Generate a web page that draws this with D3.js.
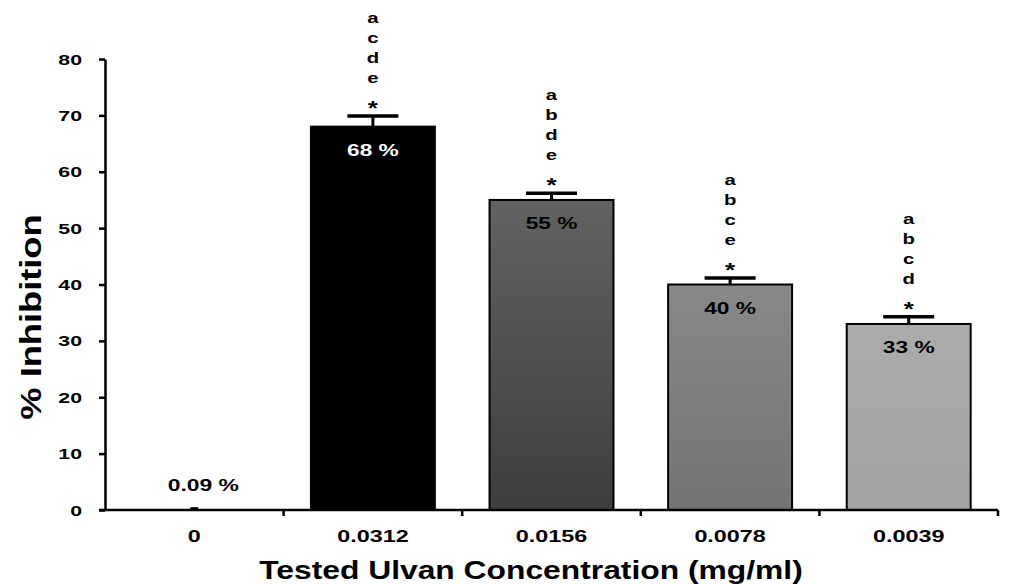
<!DOCTYPE html>
<html>
<head>
<meta charset="utf-8">
<script src="https://cdn.jsdelivr.net/npm/d3@7"></script>
<style>
  html, body { margin: 0; padding: 0; background: #fff; }
  svg { display: block; font-family: "Liberation Sans", Arial, Helvetica, sans-serif; }
</style>
</head>
<body>
<svg id="chart" width="1009" height="584"></svg>
<script>
// ---- data ----
const categories = ["0", "0.0312", "0.0156", "0.0078", "0.0039"];
const values = [0.09, 68, 55, 40, 33];
const errors = [0.1, 1.9, 1.2, 1.15, 1.3];
const valueLabels = ["0.09 %", "68 %", "55 %", "40 %", "33 %"];
const sigLetters = [[], ["a", "c", "d", "e", "*"], ["a", "b", "d", "e", "*"], ["a", "b", "c", "e", "*"], ["a", "b", "c", "d", "*"]];
const yTicks = [0, 10, 20, 30, 40, 50, 60, 70, 80];
const yTitle = "% Inhibition";
const xTitle = "Tested Ulvan Concentration (mg/ml)";

// ---- styling ----
const fills = ["#000", "url(#g1)", "url(#g2)", "url(#g3)", "url(#g4)"];
const labelColors = ["#000", "#fff", "#000", "#000", "#000"];
const capWidths = [8, 51, 51, 51, 51];

const svg = d3.select("#chart");
svg.append("rect").attr("width", 1009).attr("height", 584).attr("fill", "#fff");

const defs = svg.append("defs");
const grads = [["g1", "#000000", "#000000"], ["g2", "#626262", "#3e3e3e"], ["g3", "#888888", "#747474"], ["g4", "#ababab", "#a3a3a3"]];
grads.forEach(([id, c0, c1]) => {
  const g = defs.append("linearGradient").attr("id", id).attr("x1", 0).attr("y1", 0).attr("x2", 0).attr("y2", 1);
  g.append("stop").attr("offset", "0%").attr("stop-color", c0);
  g.append("stop").attr("offset", "100%").attr("stop-color", c1);
});

const x0 = 105, x1 = 998, yBot = 510, yTop = 59;
const x = d3.scaleBand().domain(categories).range([x0, x1]).paddingInner(0.306).paddingOuter(0.153);
const y = d3.scaleLinear().domain([0, 80]).range([yBot, yTop]);

// bars
svg.selectAll("rect.bar").data(categories).join("rect")
  .attr("class", "bar")
  .attr("x", d => x(d))
  .attr("width", x.bandwidth())
  .attr("y", (d, i) => y(values[i]))
  .attr("height", (d, i) => y(0) - y(values[i]))
  .attr("fill", (d, i) => fills[i])
  .attr("stroke", (d, i) => (y(0) - y(values[i]) < 2 ? "none" : "#000"))
  .attr("stroke-width", 2);

// error bars
const eb = svg.selectAll("g.err").data(categories).join("g").attr("class", "err");
eb.append("line")
  .attr("x1", d => x(d) + x.bandwidth() / 2).attr("x2", d => x(d) + x.bandwidth() / 2)
  .attr("y1", (d, i) => y(values[i])).attr("y2", (d, i) => y(values[i] + errors[i]))
  .attr("stroke", "#000").attr("stroke-width", 3);
eb.append("line")
  .attr("x1", (d, i) => x(d) + x.bandwidth() / 2 - capWidths[i] / 2)
  .attr("x2", (d, i) => x(d) + x.bandwidth() / 2 + capWidths[i] / 2)
  .attr("y1", (d, i) => y(values[i] + errors[i])).attr("y2", (d, i) => y(values[i] + errors[i]))
  .attr("stroke", "#000").attr("stroke-width", 3.5);

// helper for stretched text
function sText(g, tx, ty, txt, size, sx, color, anchor, rot) {
  return g.append("text")
    .attr("transform", `translate(${tx},${ty})` + (rot ? ` rotate(${rot})` : "") + ` scale(${sx},1)`)
    .attr("text-anchor", anchor || "middle")
    .attr("font-size", size)
    .attr("font-weight", "bold")
    .attr("fill", color || "#000")
    .text(txt);
}

// value labels
categories.forEach((c, i) => {
  const cx = x(c) + x.bandwidth() / 2;
  if (i === 0) {
    sText(svg, cx + 9, y(values[i]) - 18, valueLabels[i], 16, 1.43, labelColors[i]);
  } else {
    sText(svg, cx, y(values[i]) + 29, valueLabels[i], 16, 1.42, labelColors[i]);
  }
});

// significance letters
categories.forEach((c, i) => {
  const cx = x(c) + x.bandwidth() / 2;
  const capY = y(values[i] + errors[i]);
  const L = sigLetters[i];
  const n = L.length;
  L.forEach((t, j) => {
    const k = n - 1 - j; // 0 = bottom ("*")
    if (k === 0) {
      sText(svg, cx, capY - 1, t, 20, 1.3, "#000");
    } else {
      sText(svg, cx, capY - 33 - 20 * (k - 1), t, 14.5, 1.4, "#000");
    }
  });
});

// y axis
const yAxis = svg.append("g").attr("transform", `translate(${x0},0)`)
  .call(d3.axisLeft(y).tickValues(yTicks).tickSize(6).tickSizeOuter(0));
yAxis.select(".domain").attr("stroke", "#000").attr("stroke-width", 2.5);
yAxis.selectAll(".tick line").attr("stroke", "#000").attr("stroke-width", 2.5);
yAxis.selectAll(".tick text")
  .attr("x", null).attr("dy", null)
  .attr("transform", "translate(-23,5) scale(1.42,1)")
  .attr("font-size", 15).attr("font-weight", "bold")
  .attr("font-family", "Liberation Sans, Arial, sans-serif")
  .attr("fill", "#000");

// x axis
const xAxis = svg.append("g").attr("transform", `translate(0,${yBot})`)
  .call(d3.axisBottom(x).tickSize(0).tickSizeOuter(0));
xAxis.select(".domain").attr("stroke", "#000").attr("stroke-width", 2.5).attr("d", `M${x0 - 6},0H${x1}`);
xAxis.selectAll(".tick text")
  .attr("y", null).attr("dy", null)
  .attr("transform", "translate(0,32) scale(1.46,1)")
  .attr("font-size", 16).attr("font-weight", "bold")
  .attr("font-family", "Liberation Sans, Arial, sans-serif")
  .attr("fill", "#000");
// boundary ticks
const gap = x.step() - x.bandwidth();
const bounds = categories.slice(1).map(c => x(c) - gap / 2).concat([x1]);
xAxis.selectAll("line.btick").data(bounds).join("line")
  .attr("class", "btick")
  .attr("x1", d => d).attr("x2", d => d)
  .attr("y1", 0).attr("y2", 6)
  .attr("stroke", "#000").attr("stroke-width", 2.5);

// titles
sText(svg, 41, 317, yTitle, 29, 1.25, "#000", "middle", -90);
sText(svg, 531, 579, xTitle, 26.5, 1.2, "#000", "middle");
</script>
</body>
</html>
